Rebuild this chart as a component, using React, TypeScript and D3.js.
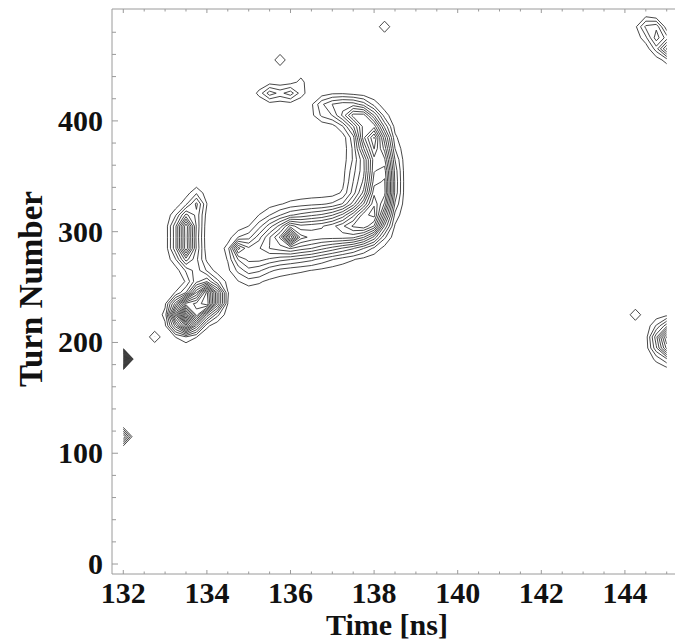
import React from "react";
import * as d3 from "d3";

const W = 675;
const H = 640;

// axis domains
const timeDomain = [131.73, 145.27];
const turnDomain = [-9, 501];
const xTickLabels = [132, 134, 136, 138, 140, 142, 144];
const yTickLabels = [0, 100, 200, 300, 400];
const xMinorTicks = d3.range(132, 145.01, 0.5);
const yMinorTicks = d3.range(0, 481, 20);

// sampling grid of the measured map (0.25 ns x 10 turns)
const gridTimeStart = 132;
const gridTimeStep = 0.25;
const gridCols = 53;
const gridTurnStart = 5;
const gridTurnStep = 10;
const gridRows = 50;

// intensity peaks
const peakTime = [
  132, 132, 132.75, 135.75, 138.25, 144.25, 144.75,
  134.75,
  133.5, 134.0,
  133.5, 133.5, 133.75, 133.75,
  135.5, 136.0, 136.3,
  135.0, 135.5, 136.0, 136.5, 137.0, 137.5, 137.95, 138.15, 138.15, 137.95, 137.6, 137.1, 136.75,
  136.0, 137.6,
  145.0, 145.0,
  144.5, 144.75, 145.0,
];
const peakTurn = [
  185, 115, 205, 455, 485, 225, 485,
  285,
  225, 240,
  305, 285, 325, 265,
  425, 425, 437,
  275, 290, 295, 297, 300, 304, 312, 335, 360, 385, 405, 413, 410,
  297, 345,
  205, 195,
  485, 475, 465,
];
const peakHeight = [
  20, 6, 2, 2, 2, 2, 2,
  5,
  18, 15,
  9, 9, 4, 3,
  3.5, 3.5, 1.3,
  4.5, 5.5, 7, 7, 7, 9, 10, 10, 9, 11, 8, 3.5, 2,
  7, 3,
  8, 4,
  3, 4, 6,
];
const peakSpreadTime = [
  0.05, 0.05, 0.05, 0.05, 0.05, 0.05, 0.05,
  0.13,
  0.22, 0.22,
  0.18, 0.18, 0.15, 0.2,
  0.18, 0.18, 0.12,
  0.28, 0.28, 0.28, 0.28, 0.28, 0.28, 0.24, 0.23, 0.23, 0.24, 0.28, 0.26, 0.18,
  0.12, 0.2,
  0.2, 0.2,
  0.15, 0.15, 0.15,
];
const peakSpreadTurn = [
  2, 2, 2, 2, 2, 2, 2,
  5.5,
  9.5, 9.5,
  9, 9, 8, 8,
  5, 5, 6,
  13, 15, 15, 15, 14, 13, 13, 13, 13, 11, 8, 7, 6,
  5, 20,
  9, 9,
  6, 6, 6,
];

const contourLevels = d3.range(1, 21);

export default function App() {
  const x = d3.scaleLinear().domain(timeDomain).range([112, 678]);
  const y = d3.scaleLinear().domain(turnDomain).range([574, 9]);

  const values = new Array(gridCols * gridRows).fill(0);
  for (let j = 0; j < gridRows; j++) {
    const n = gridTurnStart + gridTurnStep * j;
    for (let i = 0; i < gridCols; i++) {
      const t = gridTimeStart + gridTimeStep * i;
      let v = 0;
      for (let k = 0; k < peakTime.length; k++) {
        const dt = (t - peakTime[k]) / peakSpreadTime[k];
        const dn = (n - peakTurn[k]) / peakSpreadTurn[k];
        v += peakHeight[k] * Math.exp(-0.5 * (dt * dt + dn * dn));
      }
      values[i + j * gridCols] = v;
    }
  }

  const contours = d3.contours().size([gridCols, gridRows]).thresholds(contourLevels)(values);
  const proj = d3.geoTransform({
    point(px: number, py: number) {
      (this as any).stream.point(
        x(gridTimeStart + gridTimeStep * (px - 0.5)),
        y(gridTurnStart + gridTurnStep * (py - 0.5))
      );
    },
  });
  const path = d3.geoPath(proj);

  const clipX0 = x(gridTimeStart);
  const clipX1 = x(gridTimeStart + gridTimeStep * (gridCols - 1));
  const clipY0 = y(gridTurnStart + gridTurnStep * (gridRows - 1));
  const clipY1 = y(gridTurnStart);

  const font = "'Liberation Serif', 'DejaVu Serif', serif";
  const axisColor = "#9a9a9a";

  return (
    <svg
      width={W}
      height={H}
      style={{ position: "absolute", left: 0, top: 0, background: "#fff" }}
    >
      <defs>
        <clipPath id="dataClip">
          <rect x={clipX0} y={clipY0} width={clipX1 - clipX0} height={clipY1 - clipY0} />
        </clipPath>
      </defs>
      <rect x={0} y={0} width={W} height={H} fill="#fff" />

      <g clipPath="url(#dataClip)">
        {contours.map((c, idx) => (
          <path key={idx} d={path(c as any) || ""} fill="none" stroke="#333" strokeWidth={0.9} strokeLinejoin="round" />
        ))}
      </g>

      {/* frame */}
      <line x1={112} x2={112} y1={9} y2={574} stroke={axisColor} strokeWidth={1} />
      <line x1={112} x2={678} y1={574} y2={574} stroke={axisColor} strokeWidth={1} />
      <line x1={112} x2={678} y1={9} y2={9} stroke={axisColor} strokeWidth={1} />

      {/* x ticks */}
      {xMinorTicks.map((t) => {
        const major = xTickLabels.includes(t);
        const len = major ? 4 : 2.5;
        return (
          <g key={"xt" + t}>
            <line x1={x(t)} x2={x(t)} y1={574} y2={574 - len} stroke={axisColor} />
            <line x1={x(t)} x2={x(t)} y1={9} y2={9 + len} stroke={axisColor} />
          </g>
        );
      })}
      {/* y ticks */}
      {yMinorTicks.map((n) => {
        const major = yTickLabels.includes(n);
        const len = major ? 6 : 4;
        return <line key={"yt" + n} x1={112} x2={112 + len} y1={y(n)} y2={y(n)} stroke={axisColor} />;
      })}

      {xTickLabels.map((t) => (
        <text key={"xl" + t} x={x(t)} y={603} textAnchor="middle" fontFamily={font} fontWeight="bold" fontSize={30} fill="#111">
          {t}
        </text>
      ))}
      {yTickLabels.map((n) => (
        <text key={"yl" + n} x={103} y={y(n) + 10} textAnchor="end" fontFamily={font} fontWeight="bold" fontSize={30} fill="#111">
          {n}
        </text>
      ))}

      <text x={387} y={635} textAnchor="middle" fontFamily={font} fontWeight="bold" fontSize={30} fill="#111">
        Time [ns]
      </text>
      <text
        transform={`translate(42,289) rotate(-90)`}
        textAnchor="middle"
        fontFamily={font}
        fontWeight="bold"
        fontSize={33}
        fill="#111"
      >
        Turn Number
      </text>
    </svg>
  );
}
